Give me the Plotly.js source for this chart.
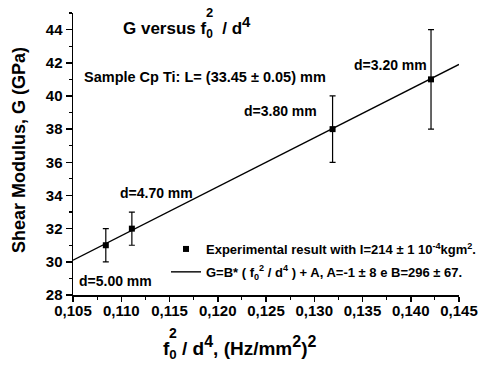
<!DOCTYPE html>
<html>
<head>
<meta charset="utf-8">
<script src="https://cdn.plot.ly/plotly-3.0.1.min.js"></script>
<style>html,body{margin:0;padding:0;background:#fff;}#chart{width:480px;height:371px;}</style>
</head>
<body>
<div id="chart"></div>
<script>
// Data
const fRatio = [0.1084, 0.1111, 0.1319, 0.1421];   // f0^2 / d^4, (Hz/mm^2)^2
const shearG = [31, 32, 38, 41];                   // G (GPa)
const shearErr = [1, 1, 2, 3];                     // error bars (GPa)
const fitX = [0.105, 0.145];                       // fitted line ends
const fitG = [30.1, 41.9];
const diameterLabels = ['d=5.00 mm', 'd=4.70 mm', 'd=3.80 mm', 'd=3.20 mm'];
const xTickVals = [0.105, 0.110, 0.115, 0.120, 0.125, 0.130, 0.135, 0.140, 0.145];
const xTickText = ['0,105', '0,110', '0,115', '0,120', '0,125', '0,130', '0,135', '0,140', '0,145'];
const yTickVals = [28, 30, 32, 34, 36, 38, 40, 42, 44];

const FONT = 'Liberation Sans, Arial, sans-serif';
const W = 480, H = 371;
const M = {l: 73, r: 21, t: 13, b: 76, autoexpand: false};
const PW = W - M.l - M.r, PH = H - M.t - M.b;
const px = v => (v - M.l) / PW;          // pixel x -> paper
const py = v => (H - M.b - v) / PH;      // pixel y -> paper
const bigSup = (t, s) => '<sup><span style="font-size:' + s + 'px">' + t + '</span></sup>';

const traces = [
  {
    x: fRatio, y: shearG, type: 'scatter', mode: 'markers',
    name: 'Experimental result with I=214 ± 1 10<sup>-4</sup>kgm<sup>2</sup>.',
    marker: {symbol: 'square', size: 6, color: '#000'},
    error_y: {type: 'data', array: shearErr, visible: true, color: '#000', thickness: 1.2, width: 3},
    legendrank: 1, legendgroup: 'exp'
  },
  {
    x: fitX, y: fitG, type: 'scatter', mode: 'lines',
    name: 'G=B* ( f<sub>0</sub><sup>2</sup> / d<sup>4</sup> ) + A, A=-1 ± 8 e B=296 ± 67.',
    line: {color: '#000', width: 1.4},
    legendrank: 2, legendgroup: 'fit'
  }
];

const labelPos = [[0.10541, 28.84], [0.10966, 34.15], [0.1225, 39.09], [0.1339, 41.86]];
const annotations = diameterLabels.map((t, i) => ({
  text: t, x: labelPos[i][0], y: labelPos[i][1], xref: 'x', yref: 'y',
  xanchor: 'left', yanchor: 'middle', showarrow: false,
  font: {family: FONT, size: 14, color: '#000', weight: 'bold'}
}));
annotations.push({
  text: 'Sample Cp Ti: L= (33.45 ± 0.05) mm', x: 0.10590, y: 41.14, xref: 'x', yref: 'y',
  xanchor: 'left', yanchor: 'middle', showarrow: false,
  font: {family: FONT, size: 14.5, color: '#000', weight: 'bold'}
});
// y axis title
annotations.push({
  text: 'Shear Modulus, G (GPa)', textangle: -90, xref: 'paper', yref: 'paper',
  x: px(19), y: py(150), xanchor: 'center', yanchor: 'middle', showarrow: false,
  font: {family: FONT, size: 18, color: '#000', weight: 'bold'}
});
// x axis title
annotations.push({
  text: 'f<sub>0</sub> / d' + bigSup('4', 16) + ', (Hz/mm' + bigSup('2', 16) + ')' + bigSup('2', 16),
  xref: 'paper', yref: 'paper',
  x: px(161), y: py(347), xanchor: 'left', yanchor: 'middle', showarrow: false,
  font: {family: FONT, size: 19, color: '#000', weight: 'bold'}
});
// stacked superscript 2 over subscript 0 (x title)
annotations.push({
  text: '2', xref: 'paper', yref: 'paper', x: px(173), y: py(333),
  xanchor: 'center', yanchor: 'middle', showarrow: false,
  font: {family: FONT, size: 14, color: '#000', weight: 'bold'}
});
// stacked superscript 2 over subscript 0 (main title)
annotations.push({
  text: '2', xref: 'paper', yref: 'paper', x: px(209), y: py(12.5),
  xanchor: 'center', yanchor: 'middle', showarrow: false,
  font: {family: FONT, size: 13, color: '#000', weight: 'bold'}
});

const layout = {
  width: W, height: H,
  margin: M,
  paper_bgcolor: '#fff', plot_bgcolor: '#fff',
  separators: ',.',
  font: {family: FONT, color: '#000'},
  title: {
    text: 'G versus f<sub>0</sub>  / d' + bigSup('4', 15),
    font: {family: FONT, size: 17, color: '#000', weight: 'bold'},
    xref: 'container', yref: 'container',
    x: 123 / W, xanchor: 'left', y: (H - 28) / H, yanchor: 'middle'
  },
  showlegend: true,
  legend: {
    x: px(166), y: py(234), xanchor: 'left', yanchor: 'top',
    bgcolor: 'rgba(0,0,0,0)', borderwidth: 0,
    font: {family: FONT, size: 13, color: '#000', weight: 'bold'},
    itemwidth: 30, tracegroupgap: 3
  },
  xaxis: {
    range: [0.105, 0.145], tickmode: 'array', tickvals: xTickVals, ticktext: xTickText,
    showline: true, linecolor: '#000', linewidth: 1.5, mirror: false,
    ticks: 'outside', ticklen: 5, tickwidth: 1.5, tickcolor: '#000', tickangle: 0,
    ticklabelstandoff: -4,
    minor: {dtick: 0.0025, tick0: 0.105, ticks: 'outside', ticklen: 3, tickwidth: 1.2, tickcolor: '#000'},
    showgrid: false, zeroline: false, automargin: false,
    tickfont: {family: FONT, size: 15, color: '#000', weight: 'bold'}
  },
  yaxis: {
    range: [28, 45], tickmode: 'array', tickvals: yTickVals,
    showline: true, linecolor: '#000', linewidth: 1.5, mirror: false,
    ticks: 'outside', ticklen: 6, tickwidth: 1.5, tickcolor: '#000',
    minor: {dtick: 1, tick0: 28, ticks: 'outside', ticklen: 3, tickwidth: 1.2, tickcolor: '#000'},
    showgrid: false, zeroline: false, automargin: false,
    tickfont: {family: FONT, size: 15, color: '#000', weight: 'bold'}
  },
  annotations: annotations
};

Plotly.newPlot('chart', traces, layout, {displayModeBar: false, staticPlot: true});
</script>
</body>
</html>
